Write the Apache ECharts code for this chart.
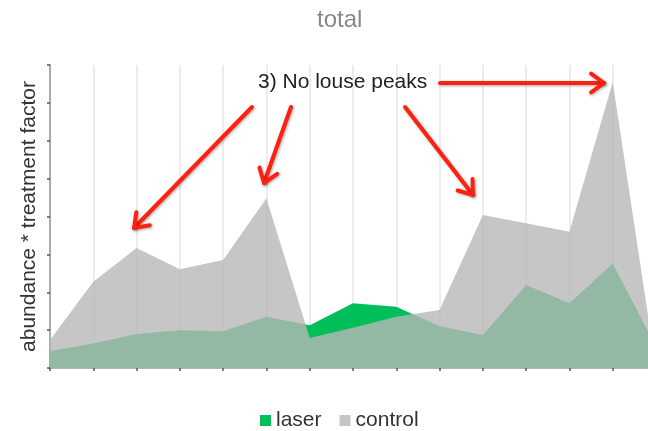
<!DOCTYPE html>
<html>
<head>
<meta charset="utf-8">
<script src="https://cdn.jsdelivr.net/npm/echarts@6/dist/echarts.min.js"></script>
<style>
  html, body { margin: 0; padding: 0; background: #fff; overflow: hidden; }
  /* the original plot runs past the right edge of the picture */
  #main { width: 656px; height: 431px; }
</style>
</head>
<body>
<div id="main"></div>
<script>
// samples along the x axis (no labels shown on the original)
var categories = ['1', '2', '3', '4', '5', '6', '7', '8', '9', '10', '11', '12', '13', '14', '15'];
// values, in units of one y tick
var laser = [0.45, 0.65, 0.90, 1.00, 0.97, 1.35, 1.13, 1.71, 1.62, 1.10, 0.87, 2.19, 1.71, 2.76, 0.56];
var control = [0.74, 2.28, 3.17, 2.61, 2.85, 4.48, 0.79, 1.06, 1.35, 1.53, 4.04, 3.82, 3.60, 7.55, 0.0];
var yMax = 8;

// annotation: note text and arrows [from x, from y, tip x, tip y]
var noteText = '3) No louse peaks';
var arrows = [
  [252, 107, 134, 228],
  [291, 107, 264, 183],
  [405, 107, 473, 195],
  [440, 83, 604, 83]
];

var font = 'Liberation Sans, Arial, Helvetica, sans-serif';

function arrowGraphics(a) {
  var ang = Math.atan2(a[3] - a[1], a[2] - a[0]);
  var L = 16, phi = 36 * Math.PI / 180;
  var w1 = [a[2] - L * Math.cos(ang - phi), a[3] - L * Math.sin(ang - phi)];
  var w2 = [a[2] - L * Math.cos(ang + phi), a[3] - L * Math.sin(ang + phi)];
  var style = {
    stroke: '#ff2010', lineWidth: 4, lineCap: 'round', lineJoin: 'round', fill: null,
    shadowBlur: 3, shadowColor: 'rgba(0,0,0,0.35)', shadowOffsetX: 1, shadowOffsetY: 1
  };
  return [
    { type: 'polyline', shape: { points: [[a[0], a[1]], [a[2], a[3]]] }, style: style, z: 100 },
    { type: 'polyline', shape: { points: [w1, [a[2], a[3]], w2] }, style: style, z: 100 }
  ];
}

var graphics = [{
  type: 'text', left: 258, top: 72, z: 100,
  style: { text: noteText, fill: '#222', font: '21px ' + font }
}];
arrows.forEach(function (a) { graphics = graphics.concat(arrowGraphics(a)); });

var chart = echarts.init(document.getElementById('main'));
chart.setOption({
  animation: false,
  title: {
    text: 'total', left: 312, top: 3,
    textStyle: { color: '#888', fontSize: 24, fontWeight: 'normal', fontFamily: font }
  },
  legend: {
    data: ['laser', 'control'],
    left: 255, top: 405,
    icon: 'rect', itemWidth: 11, itemHeight: 11, itemGap: 18,
    textStyle: { color: '#333', fontSize: 21, fontFamily: font }
  },
  grid: { left: 50, right: 0, top: 65, bottom: 63 },
  xAxis: {
    type: 'category', data: categories, boundaryGap: false,
    axisLine: { lineStyle: { color: '#b4b4b4', width: 2 } },
    axisTick: { show: true, length: 3, interval: 0, lineStyle: { color: '#555', width: 1.5 } },
    axisLabel: { show: false },
    splitLine: { show: true, interval: 0, lineStyle: { color: '#e6e6e6', width: 1.5 } }
  },
  yAxis: {
    type: 'value', min: 0, max: yMax, interval: 1,
    name: 'abundance * treatment factor', nameLocation: 'middle', nameGap: 10,
    nameTextStyle: { color: '#333', fontSize: 21, fontFamily: font },
    axisLine: { show: true, lineStyle: { color: '#aaa', width: 2 } },
    axisTick: { show: true, length: 3, lineStyle: { color: '#555', width: 1.5 } },
    axisLabel: { show: false },
    splitLine: { show: false }
  },
  series: [
    {
      name: 'laser', type: 'line', data: laser,
      showSymbol: false, symbol: 'none',
      itemStyle: { color: '#00be5a' },
      lineStyle: { width: 0 },
      areaStyle: { color: '#00be5a', opacity: 1 }
    },
    {
      name: 'control', type: 'line', data: control,
      showSymbol: false, symbol: 'none',
      itemStyle: { color: 'rgba(184,184,184,0.8)' },
      lineStyle: { width: 0 },
      areaStyle: { color: 'rgba(184,184,184,0.8)', opacity: 1 }
    }
  ],
  graphic: graphics
});
</script>
</body>
</html>
